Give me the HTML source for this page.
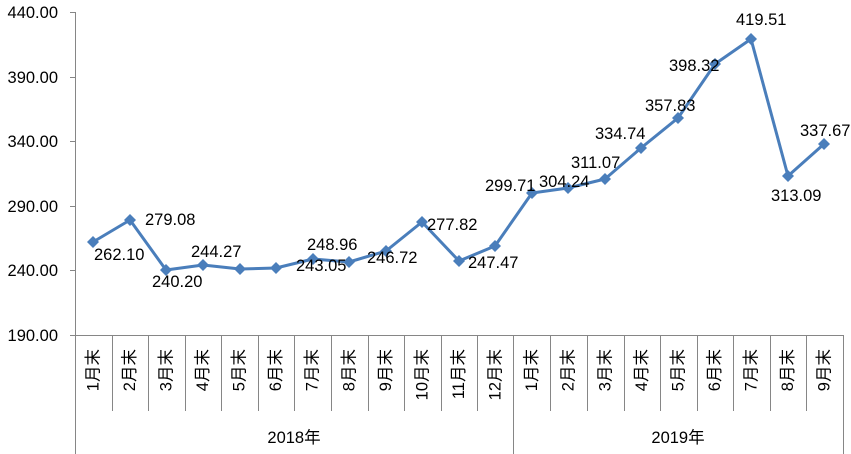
<!DOCTYPE html>
<html><head><meta charset="utf-8"><style>
body{margin:0;background:#fff}
svg{display:block}
text{font-family:"Liberation Sans","Noto Sans CJK SC",sans-serif;font-size:16.5px;fill:#000}
</style></head><body>
<svg width="851" height="454" viewBox="0 0 851 454">
<g stroke="#868686" stroke-width="1" fill="none">
<line x1="75.5" y1="12" x2="75.5" y2="454"/>
<line x1="70" y1="12.5" x2="75" y2="12.5"/>
<line x1="70" y1="77.5" x2="75" y2="77.5"/>
<line x1="70" y1="141.5" x2="75" y2="141.5"/>
<line x1="70" y1="206.5" x2="75" y2="206.5"/>
<line x1="70" y1="270.5" x2="75" y2="270.5"/>
<line x1="70" y1="335.5" x2="843" y2="335.5"/>
<line x1="513.5" y1="335" x2="513.5" y2="454"/>
<line x1="843.5" y1="335" x2="843.5" y2="454"/>
</g>
<g id="ticks" stroke="#868686" stroke-width="1"></g>
<g text-anchor="end">
<text x="58" y="18">440.00</text>
<text x="58" y="83">390.00</text>
<text x="58" y="147">340.00</text>
<text x="58" y="212">290.00</text>
<text x="58" y="276">240.00</text>
<text x="58" y="341">190.00</text>
</g>
<g id="cats"></g>
<text x="294" y="443" text-anchor="middle">2018年</text>
<text x="678" y="443" text-anchor="middle">2019年</text>
<polyline fill="none" stroke="#4a7ebb" stroke-width="3" stroke-linejoin="round" points="93,242 130,220 166,270 203,265 240,269 276,268 313,259 349,262 386,251 422,222 459,261 495,246 532,193 568,188 605,179 641,148 678,118 715,64 751,39 788,176 824,144"/>
<g id="pts" fill="#4a7ebb"></g>
<g>
<text x="94" y="260">262.10</text>
<text x="145" y="225">279.08</text>
<text x="152" y="287">240.20</text>
<text x="191" y="257">244.27</text>
<text x="296" y="271">243.05</text>
<text x="307" y="250">248.96</text>
<text x="367" y="263">246.72</text>
<text x="427" y="230">277.82</text>
<text x="468" y="268">247.47</text>
<text x="485" y="191">299.71</text>
<text x="539" y="187">304.24</text>
<text x="571" y="168">311.07</text>
<text x="595" y="139">334.74</text>
<text x="645" y="111">357.83</text>
<text x="669" y="71">398.32</text>
<text x="736" y="25">419.51</text>
<text x="771" y="201">313.09</text>
<text x="800" y="136">337.67</text>
</g>
</svg>
<script>
var ns="http://www.w3.org/2000/svg";
var w=768/21,tk=document.getElementById("ticks"),cs=document.getElementById("cats"),ps=document.getElementById("pts");
var names=["1月末","2月末","3月末","4月末","5月末","6月末","7月末","8月末","9月末","10月末","11月末","12月末","1月末","2月末","3月末","4月末","5月末","6月末","7月末","8月末","9月末"];
for(var i=0;i<21;i++){
 var x=75+w*(i+1);
 if(i<20&&i!=11){var l=document.createElementNS(ns,"line");l.setAttribute("x1",Math.round(x)+.5);l.setAttribute("x2",Math.round(x)+.5);l.setAttribute("y1",335);l.setAttribute("y2",411);tk.appendChild(l);}
 var cx=75+w*(i+0.5);
 var t=document.createElementNS(ns,"text");t.setAttribute("transform","translate("+(cx+5)+",349) rotate(-90)");t.setAttribute("text-anchor","end");t.textContent=names[i];cs.appendChild(t);
}
var pts=[[93,242],[130,220],[166,270],[203,265],[240,269],[276,268],[313,259],[349,262],[386,251],[422,222],[459,261],[495,246],[532,193],[568,188],[605,179],[641,148],[678,118],[715,64],[751,39],[788,176],[824,144]];
pts.forEach(function(p){var r=document.createElementNS(ns,"polygon");r.setAttribute("points",(p[0])+","+(p[1]-6)+" "+(p[0]+6)+","+p[1]+" "+p[0]+","+(p[1]+6)+" "+(p[0]-6)+","+p[1]);ps.appendChild(r);});
</script>
</body></html>
